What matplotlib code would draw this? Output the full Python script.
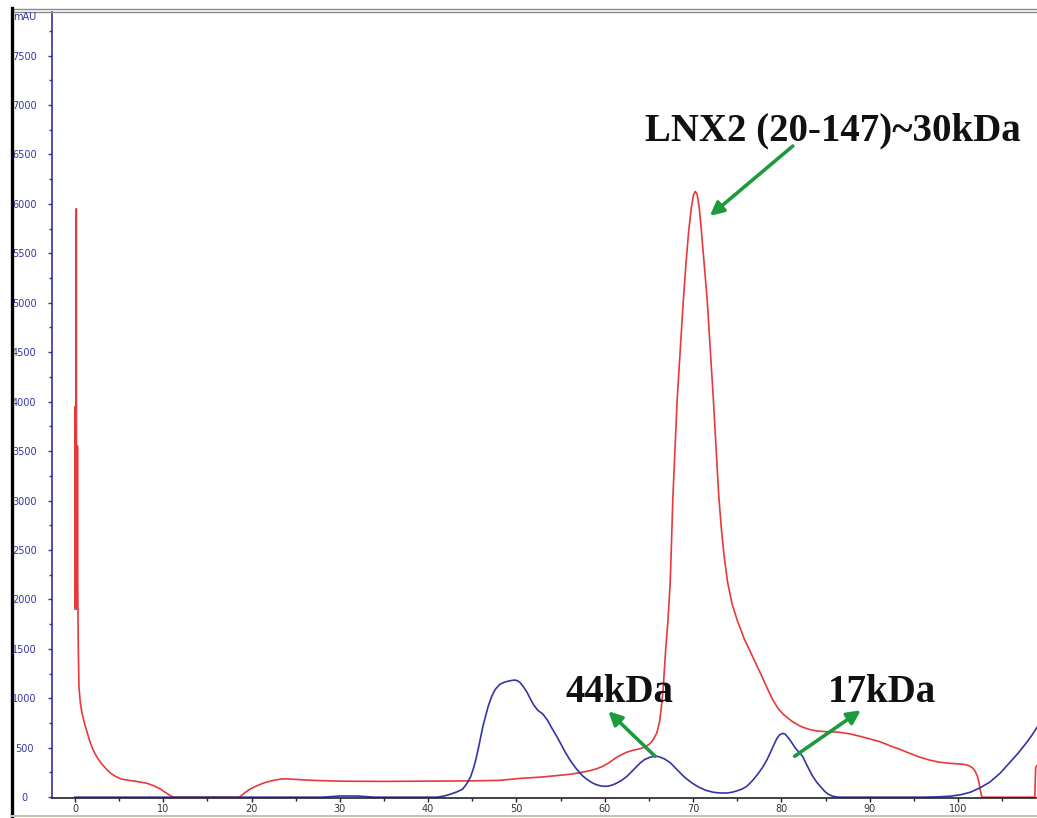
import numpy as np
import matplotlib
matplotlib.use('Agg')
import matplotlib.pyplot as plt
from matplotlib.lines import Line2D
from matplotlib.ticker import MultipleLocator

# elution volume (ml) vs absorbance (mAU)
red_x = [0.0, 0.03, 0.06, 0.09, 0.12, 0.15, 0.18, 0.21, 0.24, 0.28, 0.32, 0.38, 0.45,
         0.6, 0.8, 1.1, 1.4, 1.7, 2.0, 2.3, 2.6, 3.0, 3.5, 4.0, 4.5, 5.2, 6.0, 6.8,
         7.6, 8.1, 8.5, 8.9, 9.3, 9.7, 10.0, 10.3, 10.6, 10.8, 11.0, 11.3,
         18.6, 18.9, 19.3, 19.8, 20.4, 21.0, 21.5, 22.0, 22.7, 23.5, 24.2, 25.0,
         27.0, 30.0, 35.0, 40.0, 44.7, 48.0, 50.4, 53.0, 55.0, 56.1, 57.0, 58.0,
         59.0, 59.8, 60.5, 61.2, 62.0, 62.5, 63.2, 64.0, 64.6, 65.1, 65.5, 65.9,
         66.2, 66.4, 66.6, 66.9, 67.15, 67.4, 67.55, 67.7, 67.95, 68.2, 68.55, 68.9,
         69.2, 69.5, 69.8, 70.05, 70.25, 70.45, 70.7, 70.95, 71.25, 71.6, 71.95,
         72.3, 72.6, 72.9, 73.2, 73.5, 73.9, 74.4, 75.0, 75.8, 76.8, 77.6, 78.3,
         79.0, 79.6, 80.2, 80.8, 81.3, 82.0, 82.5, 83.2, 84.0, 85.0, 86.0, 86.6,
         87.8, 88.9, 90.0, 91.2, 92.3, 93.4, 94.5, 95.7, 96.8, 97.9, 99.2, 100.6,
         101.2, 101.6, 101.9, 102.2, 102.4, 102.5, 102.65, 102.75, 108.7, 108.8, 108.95]
red_y = [1900, 3950, 1920, 3950, 1950, 5950, 1950, 3550, 1900, 3550, 2100, 1500, 1120,
         960, 850, 740, 650, 560, 490, 435, 390, 340, 290, 245, 215, 185, 172, 162,
         150, 142, 130, 117, 100, 82, 62, 44, 28, 16, 8, 0,
         0, 20, 50, 80, 108, 130, 147, 160, 175, 185, 185, 180,
         170, 162, 160, 162, 165, 170, 190, 205, 222, 232, 245, 262,
         285, 313, 350, 395, 435, 455, 475, 490, 510, 540, 585, 650,
         760, 900, 1080, 1495, 1780, 2150, 2550, 3000, 3500, 4020, 4520, 5030,
         5400, 5720, 5960, 6090, 6125, 6100, 5960, 5720, 5400, 5030, 4520,
         4020, 3530, 3060, 2720, 2450, 2180, 1960, 1790, 1600, 1410, 1260, 1120,
         990, 900, 840, 795, 762, 725, 705, 685, 670, 663, 660, 657,
         640, 616, 590, 560, 520, 485, 445, 404, 375, 354, 342, 333,
         320, 300, 270, 212, 140, 81, 20, 0, 0, 300, 320]

blue_x = [0.0, 10.0, 28.0, 30.0, 32.0, 34.0, 41.0, 41.8, 42.5, 43.2, 43.9, 44.4, 44.8,
          45.1, 45.4, 45.7, 46.0, 46.2, 46.5, 46.8, 47.2, 47.6, 48.1, 48.6, 49.0, 49.4,
          49.8, 50.1, 50.4, 50.8, 51.2, 51.6, 51.9, 52.4, 53.0, 53.5, 54.0, 54.5, 54.9,
          55.5, 56.1, 56.8, 57.5, 58.0, 58.5, 59.0, 59.5, 60.0, 60.4, 60.9, 61.3, 61.9,
          62.5, 63.0, 63.5, 64.0, 64.5, 65.0, 65.5, 65.9, 66.3, 66.8, 67.4, 67.9, 68.5,
          69.0, 69.6, 70.2, 70.8, 71.5, 72.3, 73.0, 73.8, 74.4, 75.0, 75.6, 76.1, 76.7,
          77.3, 77.9, 78.4, 78.8, 79.2, 79.5, 79.8, 80.1, 80.4, 80.7, 81.0, 81.3, 81.6,
          82.0, 82.4, 82.8, 83.2, 83.6, 84.0, 84.5, 84.9, 85.3, 85.8, 86.5, 96.0, 97.5,
          99.1, 100.3, 101.4, 102.5, 103.6, 104.8, 105.9, 106.9, 107.8, 108.4, 108.95]
blue_y = [0, 0, 0, 12, 12, 0, 0, 12, 30, 52, 81, 140, 205,
          283, 380, 500, 630, 717, 820, 920, 1020, 1090, 1141, 1162, 1172, 1180,
          1185, 1178, 1160, 1115, 1060, 990, 940, 880, 840, 780, 700, 625, 560,
          460, 370, 285, 215, 180, 150, 128, 115, 110, 112, 125, 140, 170,
          210, 255, 300, 345, 380, 400, 412, 414, 405, 385, 350, 305, 250,
          205, 162, 125, 95, 68, 50, 43, 42, 50, 65, 85, 111, 165,
          230, 305, 384, 460, 540, 595, 630, 645, 640, 610, 575, 535, 495,
          455, 414, 340, 270, 205, 152, 100, 60, 30, 10, 0, 0, 3,
          10, 25, 50, 95, 152, 245, 354, 455, 556, 630, 707]

labels = ['LNX2 (20-147)~30kDa', '44kDa', '17kDa']
label_xy = [(85.8, 6740), (61.7, 1060), (91.4, 1060)]
arrow_tail = [(81.3, 6585), (65.7, 414), (81.5, 414)]
arrow_head = [(71.9, 5878), (60.4, 869), (89.0, 879)]

W, H = 1037, 818
fig = plt.figure(figsize=(W / 100, H / 100), dpi=100)
ax = fig.add_axes([52 / W, 1 - 798 / H, 1 - 52 / W, (798 - 12) / H])

navy = '#3434a2'
ax.plot(red_x, red_y, color='#e8383c', lw=1.2)
ax.plot(blue_x, blue_y, color=navy, lw=1.2)

ax.set_xlim(-2.6, 108.95)
ax.set_ylim(-8, 7940)

ax.spines['top'].set_visible(False)
ax.spines['right'].set_visible(False)
ax.spines['left'].set_color(navy)
ax.spines['left'].set_linewidth(1.2)
ax.spines['bottom'].set_color('#222222')
ax.spines['bottom'].set_linewidth(1.2)

ax.xaxis.set_major_locator(MultipleLocator(10))
ax.xaxis.set_minor_locator(MultipleLocator(5))
ax.yaxis.set_major_locator(MultipleLocator(500))
ax.yaxis.set_minor_locator(MultipleLocator(250))
ax.tick_params(axis='x', which='major', length=3, width=1, color='#222222',
               labelsize=7, labelcolor='#333333', pad=1)
ax.tick_params(axis='x', which='minor', length=2, width=1, color='#222222')
ax.tick_params(axis='y', which='major', length=3, width=1, color=navy,
               labelsize=7, labelcolor=navy, pad=17)
ax.tick_params(axis='y', which='minor', length=2, width=1, color=navy)
ax.set_xticklabels([str(int(t)) if t >= 0 else '' for t in ax.get_xticks()])
for lbl in ax.get_yticklabels():
    lbl.set_horizontalalignment('center')

fig.text(13 / W, 1 - 17 / H, 'mAU', color=navy, fontsize=7, ha='left', va='center')

green = '#1e9a3e'
for txt, (tx, ty), tail, head in zip(labels, label_xy, arrow_tail, arrow_head):
    ax.text(tx, ty, txt, ha='center', va='center', fontsize=28, fontweight='bold',
            family='Liberation Serif', color='#111111')
    ax.annotate('', xy=head, xytext=tail,
                arrowprops=dict(arrowstyle='-|>', color=green, lw=2.6,
                                mutation_scale=20, shrinkA=0, shrinkB=0))

# window frame around the chromatogram
fig.add_artist(Line2D([12 / W, 1], [1 - 8.5 / H, 1 - 8.5 / H], color='#8a8a8a', lw=1))
fig.add_artist(Line2D([12 / W, 1], [1 - 11.5 / H, 1 - 11.5 / H], color='#8a8a8a', lw=1))
fig.add_artist(Line2D([12 / W, 12 / W], [0, 1 - 8 / H], color='black', lw=2.4))
fig.add_artist(Line2D([12 / W, 1], [1 - 816 / H, 1 - 816 / H], color='#c9c1b0', lw=1.5))

fig.savefig('out.png', dpi=100)
